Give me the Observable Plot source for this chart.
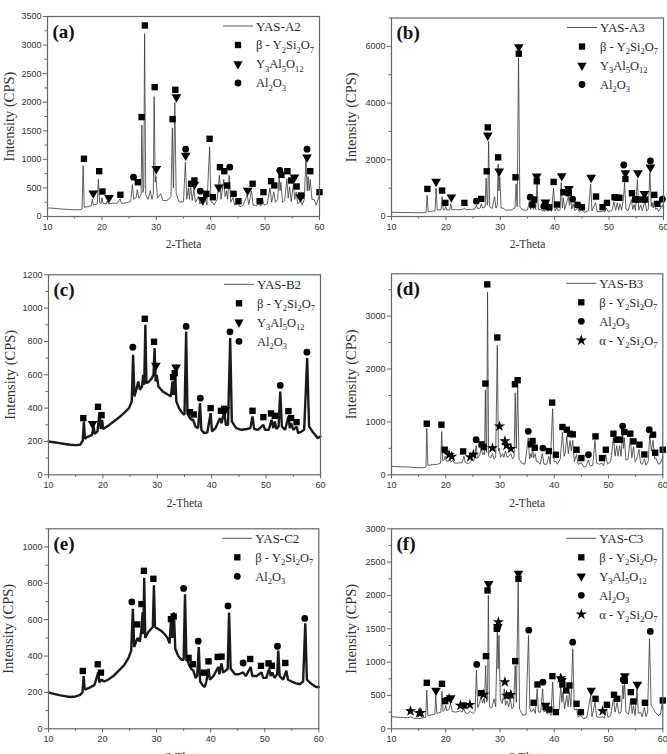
<!DOCTYPE html>
<html><head><meta charset="utf-8">
<script src="https://cdn.jsdelivr.net/npm/d3@7"></script>
<script src="https://cdn.jsdelivr.net/npm/@observablehq/plot@0.6"></script>
<style>
body{margin:0;background:#fff}
#wrap{position:relative;width:667px;height:754px;overflow:hidden;background:#fff}
.panel{position:absolute}
.panel svg{overflow:visible;max-width:none}
</style>
</head><body><div id="wrap"></div>
<script>
// ---------- shared ticks ----------
const xTicks = [10, 20, 30, 40, 50, 60];
const xMinor = [15, 25, 35, 45, 55];

// ---------- (a) YAS-A2 ----------
const traceA = [[10,150],[11,145],[12,135],[13,128],[14,122],[15,118],[16,120],[16.35,130],[16.55,890],[16.75,160],[17.5,175],[18.05,190],[18.25,300],[18.45,200],[19.15,220],[19.35,650],[19.6,240],[19.85,230],[20.0,330],[20.2,230],[20.8,220],[21.0,270],[21.2,220],[22,235],[22.8,230],[23.35,310],[23.6,230],[24.5,240],[25.3,260],[25.6,560],[25.85,300],[26.3,330],[26.5,470],[26.8,320],[27.2,380],[27.35,1600],[27.55,420],[27.7,500],[27.85,3200],[28.05,380],[28.5,300],[28.9,450],[29.2,300],[29.45,400],[29.6,2100],[29.8,600],[29.95,700],[30.2,320],[30.8,400],[31.2,280],[32,280],[32.7,350],[32.95,1550],[33.15,500],[33.4,2000],[33.65,400],[34.2,250],[35.0,260],[35.35,950],[35.6,300],[35.9,500],[36.1,300],[36.3,550],[36.6,280],[36.9,480],[37.2,250],[37.8,350],[38.0,220],[38.2,250],[38.6,200],[39.0,300],[39.3,200],[39.8,1220],[40.05,250],[40.3,250],[40.6,200],[41.2,300],[41.6,720],[41.9,300],[42.4,650],[42.65,350],[42.9,450],[43.1,300],[43.4,720],[43.7,250],[44.1,330],[44.4,200],[45.0,230],[45.4,170],[46.0,200],[46.7,380],[47.0,210],[47.5,450],[47.8,200],[48.4,190],[48.9,230],[49.2,180],[49.5,330],[49.8,200],[50.4,220],[50.9,500],[51.2,250],[51.6,430],[51.9,250],[52.3,300],[52.6,700],[52.75,450],[52.9,600],[53.2,250],[53.6,280],[54.0,660],[54.25,320],[54.5,520],[54.8,260],[55.2,560],[55.45,300],[55.7,430],[56.0,220],[56.5,270],[56.8,200],[57.2,300],[57.5,1000],[57.75,450],[57.9,700],[58.1,450],[58.3,650],[58.6,300],[59.0,300],[59.4,200],[59.9,350],[60,280]];
const sqA = [[16.7,1010],[19.5,793],[20.1,437],[23.4,380],[26.6,600],[27.3,1740],[27.9,3343],[29.7,2264],[33.0,1704],[33.5,2217],[36.4,572],[37.0,630],[39.2,397],[39.8,1360],[40.4,338],[41.7,863],[42.5,793],[43.0,542],[44.2,397],[45.1,268],[47.7,572],[49.0,268],[49.7,426],[51.1,618],[51.7,543],[53.0,729],[54.1,793],[54.8,630],[55.8,525],[56.6,367],[58.3,793],[60.0,426]];
const triA = [[18.4,408],[21.3,327],[30.0,834],[33.7,2089],[35.4,1068],[37.0,560],[38.5,292],[41.5,513],[46.8,455],[55.4,688],[56.5,338],[57.7,1038]];
const cirA = [[25.8,688],[35.4,1179],[38.1,443],[43.5,863],[52.7,805],[57.7,1179]];
const yTicksA = [0,500,1000,1500,2000,2500,3000,3500];
const yMinorA = [250,750,1250,1750,2250,2750,3250];

// ---------- (b) YAS-A3 ----------
const traceB = [[10,150],[12,140],[14,135],[16,130],[16.35,150],[16.55,750],[16.75,170],[17.5,190],[18.0,200],[18.2,1000],[18.4,230],[19.1,230],[19.3,700],[19.5,250],[19.8,240],[19.95,350],[20.15,230],[20.7,230],[20.9,450],[21.1,240],[22,240],[22.6,230],[22.8,260],[23.0,230],[23.4,300],[23.6,240],[24.5,250],[25.3,260],[25.6,400],[25.85,270],[26.3,300],[26.5,450],[26.75,300],[27.2,330],[27.4,1350],[27.6,400],[27.7,500],[27.85,2650],[28.05,350],[28.5,280],[28.95,700],[29.2,300],[29.45,400],[29.6,1850],[29.75,900],[29.9,1400],[30.15,300],[30.5,300],[31,220],[32,230],[32.7,300],[32.9,1150],[33.1,350],[33.35,5600],[33.6,330],[34.2,220],[35.0,230],[35.3,500],[35.55,250],[35.9,350],[36.1,250],[36.3,420],[36.5,250],[36.75,1150],[37.0,250],[37.5,250],[37.8,180],[38.0,250],[38.2,180],[38.5,350],[38.7,180],[39.1,230],[39.4,180],[39.8,1000],[40.05,200],[40.4,300],[40.7,190],[41.0,250],[41.2,1200],[41.4,300],[41.6,650],[41.85,250],[42.5,700],[42.7,400],[42.9,650],[43.15,260],[43.4,450],[43.7,200],[44.2,300],[44.5,180],[45.0,230],[45.4,150],[46.2,200],[46.6,1150],[46.85,200],[47.5,480],[47.8,180],[48.5,170],[48.9,200],[49.2,160],[49.5,300],[49.8,180],[50.5,200],[50.9,520],[51.2,220],[51.5,480],[51.75,220],[52.0,450],[52.3,220],[52.65,650],[52.85,1200],[53.1,250],[53.5,200],[54.1,600],[54.35,250],[54.6,420],[54.85,200],[55.2,1300],[55.45,220],[55.8,400],[56.1,200],[56.6,550],[56.9,200],[57.2,250],[57.5,1550],[57.75,350],[57.9,500],[58.1,300],[58.3,550],[58.55,250],[58.8,300],[59.1,180],[59.8,400],[60,250]];
const sqB = [[16.6,973],[19.3,914],[19.9,480],[23.4,480],[26.5,620],[27.5,1594],[27.7,3141],[29.6,2086],[32.8,1383],[33.4,5742],[35.9,422],[36.2,598],[36.7,1242],[38.3,450],[39.0,328],[39.8,1219],[40.4,422],[41.6,855],[42.6,820],[44.2,410],[45.0,328],[47.6,703],[48.8,328],[49.6,480],[51.0,680],[51.4,660],[51.9,660],[53.0,1324],[54.2,820],[54.8,598],[55.8,598],[56.6,598],[58.3,762],[58.9,445]];
const triB = [[18.2,1230],[21.0,680],[27.7,2860],[29.8,1594],[33.4,5977],[36.7,1418],[38.3,500],[41.3,1430],[42.6,973],[46.7,1371],[53.0,1535],[55.3,1535],[56.5,797],[57.6,1735]];
const cirB = [[25.6,540],[35.5,680],[38.0,363],[43.3,610],[52.7,1816],[55.0,600],[57.6,1957],[59.8,610]];
const yTicksB = [0,2000,4000,6000];
const yMinorB = [1000,3000,5000,7000];

// ---------- (c) YAS-B2 ----------
const traceC = [[10,200],[11,195],[12,190],[13,185],[14,180],[15,178],[15.8,180],[16.3,205],[16.5,320],[16.7,215],[17,225],[18,240],[18.3,290],[18.5,245],[19,260],[19.35,370],[19.6,275],[19.85,330],[20.05,275],[21,295],[22,320],[23,345],[24,375],[24.8,400],[25.3,440],[25.55,720],[25.8,470],[26.2,520],[26.5,560],[26.8,510],[27.2,530],[27.4,600],[27.6,540],[27.8,900],[28.0,550],[28.5,560],[29.0,580],[29.3,600],[29.5,760],[29.7,560],[29.9,600],[30.2,530],[31,500],[32,480],[32.5,470],[32.8,560],[33.0,480],[33.3,600],[33.5,440],[34,400],[34.6,370],[35.0,360],[35.3,860],[35.55,370],[36,340],[36.3,330],[36.6,330],[37,290],[37.5,280],[37.85,430],[38.1,270],[38.6,250],[39.2,255],[39.8,370],[40.05,260],[40.7,280],[41.5,340],[41.8,310],[42.3,380],[42.6,300],[43.0,300],[43.4,820],[43.7,320],[44.5,280],[45.5,270],[46.5,275],[47.1,280],[47.5,350],[47.8,275],[48.5,270],[49.5,300],[49.8,270],[50.5,270],[51,330],[51.3,280],[51.6,320],[51.9,275],[52.3,290],[52.6,500],[52.9,290],[53.5,270],[54.1,350],[54.35,280],[54.6,310],[55,270],[55.6,290],[55.9,250],[56.5,260],[57.0,270],[57.55,700],[57.9,290],[58.5,260],[59,240],[59.5,220],[60,230]];
const sqC = [[16.4,340],[19.1,408],[19.75,358],[27.7,936],[29.4,798],[32.9,586],[33.2,610],[36.0,376],[36.7,362],[39.8,400],[41.7,384],[42.3,396],[47.5,384],[49.5,346],[50.9,368],[51.6,354],[54.1,382],[54.6,340],[55.6,316]];
const triC = [[18.1,306],[29.75,656],[33.45,645],[42.5,390]];
const cirC = [[25.5,766],[35.3,890],[37.9,460],[43.35,858],[52.6,536],[57.5,736]];
const yTicksC = [0,200,400,600,800,1000,1200];
const yMinorC = [100,300,500,700,900,1100];

// ---------- (d) YAS-B3 ----------
const traceD = [[10,160],[11,155],[12,150],[13,148],[14,140],[15,135],[16,135],[16.35,150],[16.5,880],[16.7,180],[17.5,190],[18.5,200],[19.05,220],[19.25,820],[19.45,260],[19.75,300],[19.9,350],[20.1,260],[20.5,250],[20.8,300],[21.0,240],[21.3,280],[21.6,220],[22.2,220],[23.0,230],[23.35,350],[23.6,230],[24.2,210],[24.6,250],[24.9,300],[25.2,270],[25.6,550],[25.85,320],[26.2,350],[26.55,500],[26.8,380],[27.0,420],[27.15,380],[27.3,1600],[27.45,450],[27.55,420],[27.7,3450],[27.9,350],[28.3,320],[28.6,400],[28.9,300],[29.2,330],[29.5,2450],[29.7,450],[29.85,500],[30.1,330],[30.5,400],[30.7,330],[31.0,450],[31.3,330],[31.6,350],[32.0,400],[32.3,300],[32.6,350],[32.8,1550],[33.0,500],[33.25,1700],[33.5,300],[34,220],[34.6,200],[35.2,700],[35.45,300],[35.7,400],[35.85,330],[36.0,520],[36.2,320],[36.5,400],[36.7,250],[37.0,250],[37.4,200],[37.8,400],[38.1,200],[38.6,200],[39.0,350],[39.25,200],[39.7,1250],[39.95,250],[40.3,250],[40.6,200],[41.1,300],[41.5,800],[41.8,350],[42.0,400],[42.3,720],[42.6,400],[42.9,650],[43.15,450],[43.4,650],[43.7,250],[44.1,380],[44.4,200],[45.0,230],[45.4,150],[45.8,150],[46.3,280],[46.6,170],[47.1,180],[47.5,650],[47.8,220],[48.3,200],[48.8,220],[49.1,170],[49.5,380],[49.8,200],[50.4,250],[50.9,700],[51.2,350],[51.5,550],[51.75,350],[52.05,550],[52.3,350],[52.6,820],[52.75,500],[52.9,700],[53.2,280],[53.6,300],[54.0,700],[54.3,320],[54.6,530],[54.9,250],[55.2,300],[55.6,480],[55.9,220],[56.2,200],[56.6,300],[56.9,180],[57.3,250],[57.6,750],[57.9,450],[58.2,650],[58.5,300],[58.7,320],[59.2,200],[59.6,220],[60,350]];
const sqD = [[16.5,966],[19.2,947],[19.8,474],[23.2,442],[26.6,575],[27.0,524],[27.3,1725],[27.65,3600],[29.5,2596],[32.75,1712],[33.25,1788],[35.7,575],[36.0,638],[36.4,512],[39.0,448],[39.6,1364],[40.3,379],[41.5,903],[42.3,853],[42.9,777],[43.4,764],[44.1,474],[45.0,316],[47.6,726],[48.8,316],[49.5,474],[50.9,777],[51.5,663],[52.1,663],[52.9,809],[54.0,777],[54.6,632],[55.7,569],[56.6,385],[58.2,758],[58.6,417],[60.0,474]];
const cirD = [[25.6,663],[35.2,821],[37.9,505],[46.3,379],[52.6,922],[57.5,853]];
const starD = [[20.6,379],[21.1,347],[24.5,335],[25.1,385],[28.6,505],[29.9,916],[30.9,638],[31.2,556],[32.0,493]];
const yTicksD = [0,1000,2000,3000];
const yMinorD = [500,1500,2500,3500];

// ---------- (e) YAS-C2 ----------
const traceE = [[10,200],[11,192],[12,185],[13,180],[14,175],[15,178],[15.8,185],[16.3,200],[16.5,290],[16.7,215],[17.5,225],[18.5,240],[19.2,310],[19.4,255],[19.8,270],[20.3,260],[21,270],[22,290],[23,320],[24,350],[24.8,390],[25.3,430],[25.6,660],[25.85,450],[26.2,480],[26.5,500],[26.9,480],[27.2,550],[27.4,640],[27.55,520],[27.7,830],[27.9,500],[28.4,530],[29.0,550],[29.3,560],[29.5,790],[29.7,560],[30.2,550],[30.8,540],[31.5,520],[32.0,500],[32.4,470],[32.7,620],[32.9,500],[33.2,640],[33.45,440],[34,400],[34.6,380],[35.0,380],[35.25,740],[35.5,400],[36.0,350],[36.4,330],[36.8,320],[37.2,280],[37.5,290],[37.8,450],[38.05,260],[38.5,240],[38.9,230],[39.2,260],[39.6,330],[39.85,270],[40.5,290],[41.4,340],[41.6,300],[42.0,360],[42.3,310],[42.8,320],[43.15,330],[43.4,640],[43.7,330],[44.5,300],[45.2,300],[46.0,310],[46.5,290],[47.4,340],[47.7,290],[48.5,290],[49.4,310],[49.7,280],[50.3,280],[50.8,330],[51.1,290],[51.4,310],[51.8,280],[52.3,300],[52.5,430],[52.75,290],[53.4,270],[54.0,320],[54.3,270],[55,260],[55.8,250],[56.5,245],[57.1,260],[57.5,580],[57.8,270],[58.5,250],[59,240],[59.5,230],[60,230]];
const sqE = [[16.35,318],[19.1,355],[19.7,309],[26.4,574],[27.2,686],[27.65,869],[29.4,825],[32.65,603],[33.15,618],[35.9,390],[36.7,355],[38.8,309],[39.6,371],[41.3,395],[42.0,397],[47.3,384],[49.3,346],[50.7,360],[51.3,347],[53.8,362]];
const cirE = [[25.4,698],[35.0,772],[37.7,482],[43.2,676],[46.0,362],[52.35,454],[57.4,607]];
const yTicksE = [0,200,400,600,800,1000];
const yMinorE = [100,300,500,700,900,1100];

// ---------- (f) YAS-C3 ----------
const traceF = [[10,180],[11,175],[12,170],[13,165],[13.5,180],[14,160],[15,155],[15.5,160],[16.3,170],[16.5,580],[16.7,200],[17.5,210],[18.0,220],[18.15,500],[18.35,230],[19.1,250],[19.3,560],[19.5,260],[19.8,280],[20.0,350],[20.2,270],[20.6,290],[20.9,380],[21.2,260],[21.8,250],[22.7,270],[23.0,250],[23.3,310],[23.6,240],[24.0,230],[24.5,260],[25.0,230],[25.4,260],[25.65,880],[25.9,320],[26.2,380],[26.5,480],[26.8,390],[27.0,450],[27.15,380],[27.35,950],[27.55,400],[27.7,450],[27.85,2000],[28.05,330],[28.5,320],[28.9,450],[29.2,330],[29.5,1450],[29.65,900],[29.8,1400],[30.05,450],[30.4,380],[30.8,600],[31.0,350],[31.3,420],[31.6,330],[31.9,450],[32.2,300],[32.5,330],[32.8,950],[33.0,400],[33.35,2200],[33.6,300],[34.2,200],[34.8,220],[35.25,1400],[35.5,300],[35.8,250],[36.2,300],[36.5,230],[36.85,600],[37.1,250],[37.5,250],[37.85,600],[38.1,250],[38.4,280],[38.7,220],[39.1,250],[39.4,200],[39.7,700],[39.95,230],[40.4,220],[40.9,300],[41.2,650],[41.4,400],[41.6,550],[41.9,300],[42.3,500],[42.55,330],[42.8,550],[43.05,330],[43.4,1200],[43.7,280],[44.1,300],[44.4,180],[44.9,200],[45.4,150],[46.0,170],[46.7,500],[46.95,180],[47.5,400],[47.8,180],[48.4,170],[48.9,180],[49.2,160],[49.6,300],[49.9,170],[50.4,200],[50.9,450],[51.2,250],[51.6,400],[51.9,230],[52.3,250],[52.65,650],[52.75,450],[52.95,700],[53.2,250],[53.7,220],[54.1,450],[54.35,230],[54.6,350],[54.9,200],[55.25,600],[55.5,230],[55.9,250],[56.2,180],[56.6,320],[56.9,180],[57.2,250],[57.55,1350],[57.85,350],[58.3,300],[58.6,250],[59.2,200],[59.6,220],[59.9,400],[60,300]];
const sqF = [[16.5,690],[19.3,675],[19.9,415],[23.3,350],[26.5,535],[27.4,1090],[27.7,2075],[29.4,1500],[31.6,500],[32.8,1015],[33.4,2250],[36.2,390],[36.9,665],[38.4,325],[39.1,290],[39.65,790],[40.3,250],[41.5,665],[42.2,575],[42.8,650],[44.1,375],[44.9,250],[47.6,450],[49.7,360],[51.0,510],[51.6,450],[53.0,720],[54.1,550],[54.6,410],[56.7,390],[60.0,425]];
const triF = [[18.2,575],[20.9,460],[27.9,2175],[29.6,1530],[33.4,2330],[38.4,350],[41.4,720],[46.8,575],[53.0,790],[55.3,665]];
const cirF = [[25.7,965],[29.5,1510],[35.3,1480],[37.9,700],[43.4,1300],[52.7,735],[57.7,1460]];
const starF = [[13.5,265],[15.1,235],[15.4,240],[20.6,450],[22.7,350],[24.45,360],[27.0,515],[29.7,1600],[30.9,700],[31.2,500],[32.0,510],[41.2,760],[48.9,265]];
const yTicksF = [0,500,1000,1500,2000,2500,3000];
const yMinorF = [250,750,1250,1750,2250,2750];

// ---------- legend labels ----------
const phaseLabels = {
  beta:  [["β - Y",0],["2",1],["Si",0],["2",1],["O",0],["7",1]],
  yag:   [["Y",0],["3",1],["Al",0],["5",1],["O",0],["12",1]],
  al:    [["Al",0],["2",1],["O",0],["3",1]],
  alpha: [["α - Y",0],["2",1],["Si",0],["2",1],["O",0],["7",1]]
};

const panels = [
  {letter:"(a)", sample:"YAS-A2", left:0,   top:0,   w:333, h:250, ml:47, mr:14, mt:16,   mb:34,   yMax:3500, yT:yTicksA, yM:yMinorA, trace:traceA, sq:sqA, tri:triA, cir:cirA, star:null, legend:["beta","yag","al"], ylabX:38, xlabDy:28, lw:0.8, lc:"#3a3a3a"},
  {letter:"(b)", sample:"YAS-A3", left:333, top:0,   w:334, h:250, ml:58, mr:4,  mt:17.5, mb:34,   yMax:7000, yT:yTicksB, yM:yMinorB, trace:traceB, sq:sqB, tri:triB, cir:cirB, star:null, legend:["beta","yag","al"], ylabX:40, xlabDy:28, lw:0.8, lc:"#3a3a3a"},
  {letter:"(c)", sample:"YAS-B2", left:0,   top:255, w:333, h:250, ml:48, mr:13, mt:19.3, mb:30.7, yMax:1200, yT:yTicksC, yM:yMinorC, trace:traceC, sq:sqC, tri:triC, cir:cirC, star:null, legend:["beta","yag","al"], ylabX:38, xlabDy:29, lw:2.4, lc:"#1a1a1a"},
  {letter:"(d)", sample:"YAS-B3", left:333, top:255, w:334, h:250, ml:58, mr:4.7,mt:18.3, mb:30.7, yMax:3800, yT:yTicksD, yM:yMinorD, trace:traceD, sq:sqD, tri:null, cir:cirD, star:starD, legend:["beta","al","alpha"], ylabX:40, xlabDy:29, lw:0.8, lc:"#3a3a3a"},
  {letter:"(e)", sample:"YAS-C2", left:0,   top:505, w:333, h:249, ml:48, mr:14.7,mt:23.3, mb:25.7, yMax:1100, yT:yTicksE, yM:yMinorE, trace:traceE, sq:sqE, tri:null, cir:cirE, star:null, legend:["beta","al"], ylabX:40, xlabDy:29, lw:2.4, lc:"#1a1a1a"},
  {letter:"(f)", sample:"YAS-C3", left:333, top:505, w:334, h:249, ml:58, mr:4.7,mt:23.3, mb:25.7, yMax:3000, yT:yTicksF, yM:yMinorF, trace:traceF, sq:sqF, tri:triF, cir:cirF, star:starF, legend:["beta","yag","al","alpha"], ylabX:40, xlabDy:29, lw:0.8, lc:"#3a3a3a"}
];

const serif = "'Liberation Serif','Times New Roman',serif";
const sans = "'Liberation Sans',Arial,sans-serif";
const X = d => d[0], Y = d => d[1];
const fmt = d3.format("d");

const wrap = document.getElementById("wrap");

for (const p of panels) {
  const marks = [
    Plot.line(p.trace, {x: X, y: Y, stroke: p.lc, strokeWidth: p.lw, strokeLinejoin: "miter"}),
    Plot.dot(p.sq, {x: X, y: Y, symbol: "square", r: 3.6, fill: "#000", stroke: null}),
  ];
  if (p.tri) marks.push(Plot.dot(p.tri, {x: X, y: Y, symbol: "triangle", rotate: 180, r: 3.6, fill: "#000", stroke: null}));
  if (p.cir) marks.push(Plot.dot(p.cir, {x: X, y: Y, symbol: "circle", r: 3.4, fill: "#000", stroke: null}));
  if (p.star) marks.push(Plot.dot(p.star, {x: X, y: Y, symbol: "star", r: 3.5, fill: "#000", stroke: null}));
  marks.push(
    Plot.frame({stroke: "#666", strokeWidth: 1.2}),
    Plot.axisX({ticks: xTicks, tickSize: 4, tickPadding: 3, tickFormat: fmt, label: null, fontSize: 9, stroke: "#666", fill: "#333"}),
    Plot.axisX({ticks: xMinor, tickSize: 2.5, tickFormat: () => "", label: null, stroke: "#666"}),
    Plot.axisY({ticks: p.yT, tickSize: 4, tickPadding: 2, tickFormat: fmt, label: null, fontSize: 9, stroke: "#666", fill: "#333"}),
    Plot.axisY({ticks: p.yM, tickSize: 2.5, tickFormat: () => "", label: null, stroke: "#666"}),
    Plot.text(["Intensity (CPS)"], {frameAnchor: "left", dx: -p.ylabX, rotate: -90, fontFamily: serif, fontSize: 14.5, fill: "#333", textAnchor: "middle", lineAnchor: "middle"}),
    Plot.text(["2-Theta"], {frameAnchor: "bottom", dy: p.xlabDy, fontFamily: serif, fontSize: 11.5, fill: "#333", textAnchor: "middle", lineAnchor: "middle"}),
    Plot.text([p.letter], {frameAnchor: "top-left", dx: 5, dy: 15, fontFamily: serif, fontWeight: "bold", fontSize: 19, fill: "#111", textAnchor: "start", lineAnchor: "middle"})
  );
  const svg = Plot.plot({
    width: p.w, height: p.h,
    marginLeft: p.ml, marginRight: p.mr, marginTop: p.mt, marginBottom: p.mb,
    x: {domain: [10, 60]},
    y: {domain: [0, p.yMax]},
    style: {fontFamily: sans, fontSize: "9px", color: "#333", background: "transparent", overflow: "visible"},
    marks
  });

  // legend (inside the frame, top-right)
  const right = p.w - p.mr;
  const g = d3.select(svg).append("g")
    .attr("transform", `translate(${right - 96},${p.mt + 10})`)
    .attr("font-family", serif).attr("fill", "#2a2a2a").attr("text-anchor", "start");
  g.append("line").attr("x1", 0).attr("x2", 30).attr("y1", 0).attr("y2", 0).attr("stroke", "#555").attr("stroke-width", 1);
  g.append("text").attr("x", 33).attr("y", 0).attr("dy", "0.35em").attr("font-size", 13).text(p.sample);
  const symbolOf = {beta: [d3.symbolSquare, 40, 0], yag: [d3.symbolTriangle, 38, 180], al: [d3.symbolCircle, 36, 0], alpha: [d3.symbolStar, 40, 0]};
  p.legend.forEach((k, i) => {
    const y = 19 * (i + 1);
    const [t, s, rot] = symbolOf[k];
    g.append("path").attr("d", d3.symbol(t, s)()).attr("fill", "#000")
      .attr("transform", `translate(15,${y}) rotate(${rot})`);
    const txt = g.append("text").attr("x", 33).attr("y", y).attr("dy", "0.35em").attr("font-size", 12.5);
    let sub = false;
    for (const [s2, isSub] of phaseLabels[k]) {
      const ts = txt.append("tspan").text(s2);
      if (isSub && !sub) { ts.attr("dy", 3.5).attr("font-size", 8.5); sub = true; }
      else if (isSub && sub) { ts.attr("font-size", 8.5); }
      else if (!isSub && sub) { ts.attr("dy", -3.5); sub = false; }
    }
  });

  const div = document.createElement("div");
  div.className = "panel";
  div.style.left = p.left + "px";
  div.style.top = p.top + "px";
  div.style.width = p.w + "px";
  div.style.height = p.h + "px";
  div.appendChild(svg);
  wrap.appendChild(div);
}
</script>
</body></html>
